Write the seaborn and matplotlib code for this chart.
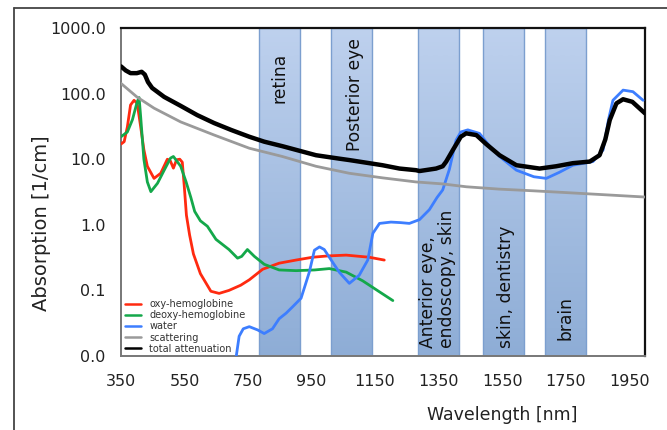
import numpy as np
import pandas as pd
import matplotlib
matplotlib.use("Agg")
import matplotlib.pyplot as plt
import seaborn as sns
from matplotlib.colors import LinearSegmentedColormap
from matplotlib.lines import Line2D
import matplotlib.transforms as mtransforms

# ---------------- data ----------------
oxy_nm = [350, 360, 370, 380, 391, 401, 412, 422, 433, 454, 475, 496, 505, 515, 525, 535, 543,
          549, 556, 566, 578, 600, 633, 659, 690, 727, 754, 796, 848, 901, 953, 1000, 1059, 1132, 1179]
oxy_val = [17, 18.5, 31, 67, 79, 71, 31, 14, 7.8, 5.1, 6.1, 10, 9.5, 7.3, 9.8, 10, 9,
           4.0, 1.4, 0.7, 0.36, 0.18, 0.097, 0.09, 0.1, 0.12, 0.145, 0.21, 0.26, 0.29, 0.32, 0.335, 0.345, 0.32, 0.29]

deoxy_nm = [350, 370, 386, 401, 407, 412, 422, 433, 444, 465, 486, 506, 515, 538, 555, 570, 582, 600,
            622, 649, 690, 717, 730, 748, 770, 801, 848, 901, 960, 1006, 1059, 1111, 1164, 1206]
deoxy_val = [22, 26, 40, 75, 87, 44, 10, 4.5, 3.2, 4.3, 6.8, 10.4, 11, 7.8, 4.5, 2.6, 1.6, 1.15,
             0.95, 0.6, 0.42, 0.31, 0.33, 0.42, 0.33, 0.25, 0.205, 0.2, 0.205, 0.215, 0.19, 0.14, 0.095, 0.07]

water_nm = [713, 722, 735, 754, 780, 801, 827, 848, 870, 890, 917, 943, 959, 975, 990, 1006, 1037,
            1069, 1100, 1127, 1143, 1164, 1200, 1230, 1258, 1290, 1321, 1345, 1363, 1384, 1405, 1420,
            1442, 1479, 1510, 1542, 1595, 1650, 1689, 1730, 1773, 1836, 1868, 1885, 1899, 1931, 1962, 1994]
water_val = [0.0100, 0.02, 0.026, 0.028, 0.025, 0.022, 0.026, 0.037, 0.045, 0.056, 0.076, 0.19, 0.41,
             0.46, 0.42, 0.32, 0.19, 0.128, 0.17, 0.29, 0.74, 1.05, 1.1, 1.08, 1.05, 1.2, 1.7, 2.6, 3.4,
             7, 19.5, 26, 28, 24.7, 16, 11, 6.8, 5.4, 5.1, 6.3, 8.1, 9.2, 13.8, 40, 79, 113, 107, 79]

scat_nm = [350, 400, 454, 538, 643, 754, 858, 964, 1069, 1173, 1279, 1363, 1437, 1540, 1647, 1750, 1857, 2000]
scat_val = [143, 89, 60, 37, 23.4, 14.7, 11, 7.8, 6.1, 5.2, 4.5, 4.2, 3.8, 3.5, 3.3, 3.1, 2.9, 2.65]

total_nm = [350, 365, 380, 400, 415, 425, 435, 448, 486, 538, 590, 643, 697, 754, 801, 858, 964, 1037,
            1069, 1173, 1227, 1279, 1290, 1342, 1363, 1374, 1395, 1420, 1437, 1469, 1500, 1542, 1595,
            1668, 1720, 1773, 1826, 1857, 1875, 1889, 1910, 1931, 1960, 2000]
total_val = [260, 225, 205, 205, 215, 195, 150, 122, 89, 65, 47, 35.6, 27.9, 22, 18.5, 15.8, 11.5, 10.2,
             9.7, 8.1, 7.2, 6.8, 6.6, 7.2, 7.8, 9.2, 13.8, 22, 24.8, 23.3, 17, 11.5, 8.1,
             7.2, 7.8, 8.7, 9.2, 11.5, 20, 39.5, 71, 82, 75, 50]

band_start = [785, 1010, 1285, 1490, 1685]
band_end = [915, 1140, 1415, 1620, 1815]
band_labels = ["retina", "Posterior eye", "Anterior eye,\nendoscopy, skin", "skin, dentistry", "brain"]

x_ticks = [350, 550, 750, 950, 1150, 1350, 1550, 1750, 1950]
y_ticks = [0.01, 0.1, 1, 10, 100, 1000]
y_ticklabels = ["0.0", "0.1", "1.0", "10.0", "100.0", "1000.0"]

# ---------------- style ----------------
sns.set_style("white")
plt.rcParams["font.family"] = ["DejaVu Sans"]

fig = plt.figure(figsize=(6.67, 4.30), dpi=100)
W, H = 667, 430
ax = fig.add_axes([121 / W, 1 - 356 / H, (645 - 121) / W, (356 - 28) / H])

# outer frame lines (partially visible)
fig.add_artist(Line2D([14 / W, 1], [1 - 8 / H, 1 - 8 / H], transform=fig.transFigure, color="#444444", lw=1.3))
fig.add_artist(Line2D([14 / W, 14 / W], [0, 1 - 8 / H], transform=fig.transFigure, color="#444444", lw=1.3))

ax.set_yscale("log")

# gradient bands
cmap = LinearSegmentedColormap.from_list("band", ["#8eadd6", "#bed1ee"])
grad = np.linspace(0, 1, 256).reshape(-1, 1)
blend = mtransforms.blended_transform_factory(ax.transData, ax.transAxes)
for x0, x1 in zip(band_start, band_end):
    ax.imshow(grad, extent=[x0, x1, 0, 1], transform=blend, aspect="auto", cmap=cmap,
              origin="lower", zorder=0.5, interpolation="bilinear")
    ax.axvspan(x0, x1, fill=False, edgecolor="#7c9fcf", lw=1.0, zorder=0.6)

# curves
sns.lineplot(x=oxy_nm, y=oxy_val, ax=ax, color="#ff2a10", lw=2.0, label="oxy-hemoglobine", zorder=3)
sns.lineplot(x=deoxy_nm, y=deoxy_val, ax=ax, color="#14a84a", lw=2.0, label="deoxy-hemoglobine", zorder=3)
sns.lineplot(x=water_nm, y=water_val, ax=ax, color="#3d7eff", lw=2.0, label="water", zorder=3)
sns.lineplot(x=scat_nm, y=scat_val, ax=ax, color="#9a9a9a", lw=2.0, label="scattering", zorder=3)
sns.lineplot(x=total_nm, y=total_val, ax=ax, color="#000000", lw=3.2, label="total attenuation", zorder=4)

# band labels
lab_pos = [(280, 0.924, "top"), (356, 0.970, "top"), (438, 0.024, "bottom"),
           (506, 0.024, "bottom"), (566, 0.049, "bottom")]
for lab, (px, yf, va) in zip(band_labels, lab_pos):
    xd = 350 + (px - 122) / 0.3171
    ax.text(xd, yf, lab, transform=blend, rotation=90, ha="center", va=va,
            multialignment="left", fontsize=12.3, color="#111111", zorder=5, linespacing=1.1)

ax.set_xlim(350, 2000)
ax.set_ylim(0.01, 1000)
ax.set_xticks(x_ticks)
ax.set_xticklabels([str(t) for t in x_ticks])
ax.set_yticks(y_ticks)
ax.set_yticklabels(y_ticklabels)
ax.minorticks_off()
ax.tick_params(axis="both", which="major", direction="out", length=5, width=1.0,
               color="#888888", labelsize=11.5, labelcolor="#222222", pad=4)
ax.tick_params(axis="x", pad=8)
ax.tick_params(axis="y", pad=6)

for side in ["top", "right"]:
    ax.spines[side].set_color("#111111")
    ax.spines[side].set_linewidth(1.6)
for side in ["left", "bottom"]:
    ax.spines[side].set_color("#777777")
    ax.spines[side].set_linewidth(1.4)

ax.set_xlabel("Wavelength [nm]", fontsize=12.5, color="#222222")
ax.xaxis.set_label_coords(0.727, -0.152)
ax.set_ylabel("Absorption [1/cm]", fontsize=14, color="#222222")
ax.yaxis.set_label_coords(-0.134, 0.405)

leg = ax.legend(loc="lower left", bbox_to_anchor=(0.0, -0.005), frameon=False, fontsize=7,
                handlelength=1.7, handletextpad=0.8, labelspacing=0.12, borderaxespad=0.2,
                borderpad=0.2)
for t in leg.get_texts():
    t.set_color("#333333")
for h in leg.get_lines():
    h.set_linewidth(1.8)
leg.set_zorder(6)

fig.savefig("out.png", dpi=100)
